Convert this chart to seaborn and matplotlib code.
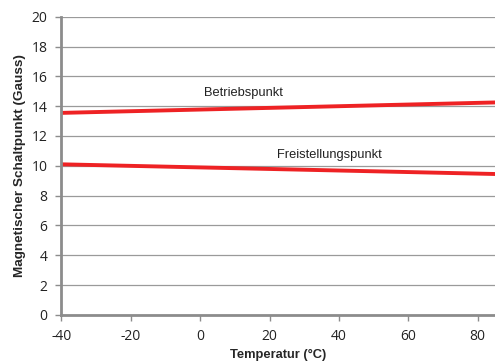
import matplotlib
matplotlib.use("Agg")
import matplotlib.pyplot as plt
import seaborn as sns
import pandas as pd

# Switching points of the magnetic sensor over temperature
temperatur = [-40, 85]
betriebspunkt = [13.55, 14.25]
freistellungspunkt = [10.1, 9.45]

df = pd.DataFrame({
    "Temperatur": temperatur * 2,
    "Gauss": betriebspunkt + freistellungspunkt,
    "Kurve": ["Betriebspunkt"] * 2 + ["Freistellungspunkt"] * 2,
})

sns.set_theme(style="white")
plt.rcParams["font.family"] = ["Liberation Sans", "DejaVu Sans"]
plt.rcParams["axes.unicode_minus"] = False

fig = plt.figure(figsize=(4.95, 3.64), dpi=100)
ax = fig.add_axes([0.124, 0.135, 0.876, 0.819])

sns.lineplot(data=df, x="Temperatur", y="Gauss", hue="Kurve",
             palette=["#ee2224", "#ee2224"], linewidth=2.8, legend=False, ax=ax)

ax.set_xlim(-40, 85)
ax.set_ylim(0, 20)
ax.set_xticks(range(-40, 81, 20))
ax.set_yticks(range(0, 21, 2))
ax.yaxis.grid(True, color="#9a9a9a", linewidth=0.9)
ax.set_axisbelow(True)

for side in ["top", "right"]:
    ax.spines[side].set_visible(False)
for side in ["left", "bottom"]:
    ax.spines[side].set_color("#8c8c8c")
    ax.spines[side].set_linewidth(2.0)

ax.tick_params(axis="both", which="major", direction="out", length=4,
               width=1.0, color="#8c8c8c", labelsize=10, labelcolor="#222222",
               bottom=True, left=True)
ax.tick_params(axis="x", pad=6)
ax.tick_params(axis="y", pad=6)
for lab in ax.get_xticklabels() + ax.get_yticklabels():
    lab.set_fontfamily(["Open Sans", "DejaVu Sans"])

ax.set_xlabel("Temperatur (°C)", fontsize=9.3, fontweight="bold", labelpad=4)
ax.set_ylabel("Magnetischer Schaltpunkt (Gauss)", fontsize=9.7,
              fontweight="bold", labelpad=4)

ax.text(12.6, 14.9, "Betriebspunkt", fontsize=9.3, ha="center", va="center",
        color="#222222")
ax.text(37.3, 10.7, "Freistellungspunkt", fontsize=9.3, ha="center",
        va="center", color="#222222")

fig.savefig("out.png", dpi=100)
